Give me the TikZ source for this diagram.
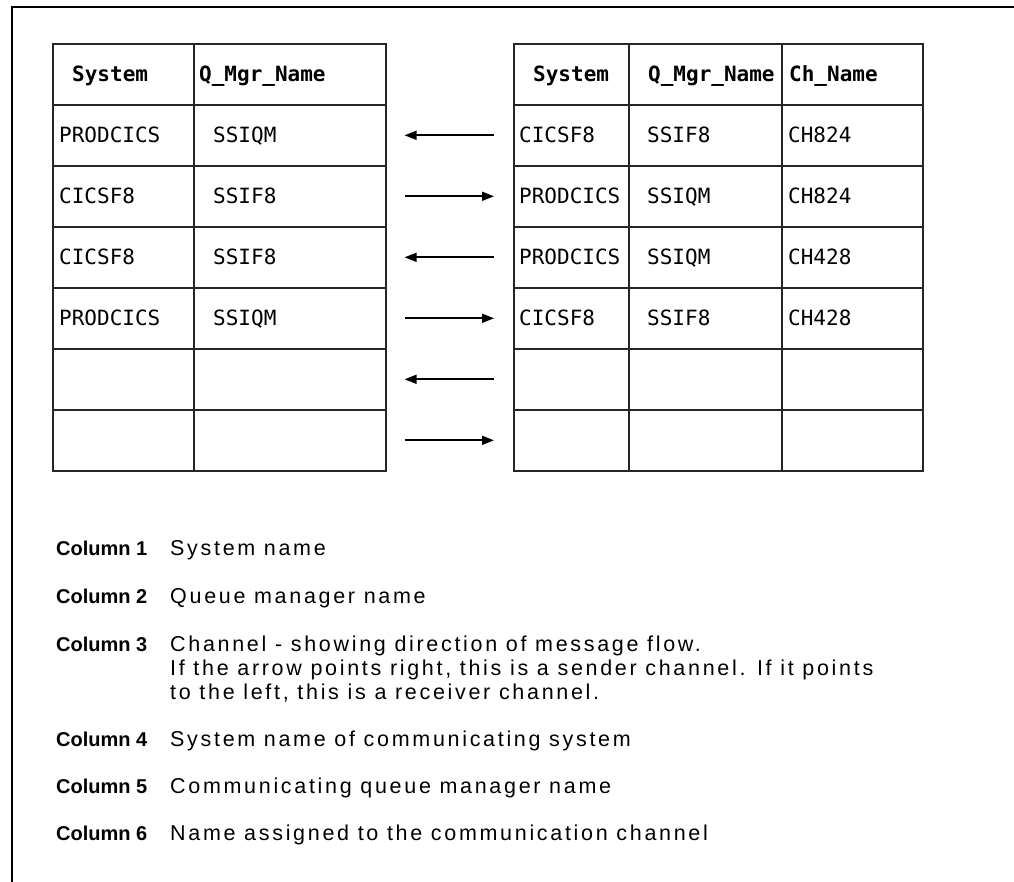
\documentclass[tikz,border=0pt]{standalone}
\usepackage{fontspec}
\usetikzlibrary{arrows.meta,calc}
\setmainfont{Liberation Sans}
\newfontfamily\tabfont{DejaVu Sans Mono}
\newfontfamily\descfont[LetterSpace=12.5]{Liberation Sans}
\begin{document}
\begin{tikzpicture}[x=1pt,y=-1pt,
  frameline/.style={line width=2pt},
  tabline/.style={draw=black!85,line width=1.6pt},
  cellbox/.style={tabline,rectangle,anchor=north west,inner sep=0pt,minimum height=61pt},
  celltext/.style={anchor=base west,inner sep=0pt,font=\tabfont\fontsize{21}{21}\selectfont},
  headtext/.style={anchor=base west,inner sep=0pt,font=\tabfont\bfseries\fontsize{21}{21}\selectfont},
  flow/.style={line width=1.7pt,-{Triangle[length=12pt,width=9pt]}},
  collabel/.style={anchor=base west,inner sep=0pt,font=\bfseries\fontsize{20}{24}\selectfont},
  coltext/.style={anchor=base west,inner sep=0pt,font=\descfont\fontsize{21.5}{24}\selectfont},
]
\useasboundingbox (0,0) rectangle (1014,882);

% outer frame (top and left edges)
\draw[frameline] (1014,7) -- (12,7) -- (12,882);

% ---- cells of both tables: row 0 is the header, rows 1..6 the entries
\foreach \r in {0,...,6}{
  \pgfmathsetmacro{\ytop}{43+61*\r}
  \node[cellbox,minimum width=141pt] (L\r a) at (52,\ytop) {};
  \node[cellbox,minimum width=192pt] (L\r b) at (193,\ytop) {};
  \node[cellbox,minimum width=115pt] (R\r a) at (513,\ytop) {};
  \node[cellbox,minimum width=153pt] (R\r b) at (628,\ytop) {};
  \node[cellbox,minimum width=141pt] (R\r c) at (781,\ytop) {};
}

% ---- headers
\node[headtext] (hLa) at ($(L0a.west)+(20,7.5)$) {System};
\node[headtext] (hLb) at ($(L0b.west)+(6,7.5)$) {Q\_Mgr\_Name};
\node[headtext] (hRa) at ($(R0a.west)+(20,7.5)$) {System};
\node[headtext] (hRb) at ($(R0b.west)+(20,7.5)$) {Q\_Mgr\_Name};
\node[headtext] (hRc) at ($(R0c.west)+(8,7.5)$) {Ch\_Name};

% ---- entries of the local table
\foreach \r/\sys/\qm in {1/PRODCICS/SSIQM,2/CICSF8/SSIF8,3/CICSF8/SSIF8,4/PRODCICS/SSIQM}{
  \node[celltext] (tL\r a) at ($(L\r a.west)+(7,7.5)$) {\sys};
  \node[celltext] (tL\r b) at ($(L\r b.west)+(20,7.5)$) {\qm};
}

% ---- entries of the partner table
\foreach \r/\sys/\qm/\ch in {1/CICSF8/SSIF8/CH824,2/PRODCICS/SSIQM/CH824,3/PRODCICS/SSIQM/CH428,4/CICSF8/SSIF8/CH428}{
  \node[celltext] (tR\r a) at ($(R\r a.west)+(6,7.5)$) {\sys};
  \node[celltext] (tR\r b) at ($(R\r b.west)+(19,7.5)$) {\qm};
  \node[celltext] (tR\r c) at ($(R\r c.west)+(7,7.5)$) {\ch};
}

% ---- channel arrows: receivers point left, senders point right
\foreach \r in {1,3,5}
  \draw[flow,shorten <=19pt,shorten >=18pt] (R\r a.west) -- (L\r b.east);
\foreach \r in {2,4,6}
  \draw[flow,shorten <=18pt,shorten >=19pt] (L\r b.east) -- (R\r a.west);

% ---- legend
\node[collabel] (c1) at (56,555) {Column 1};
\node[coltext]  (d1) at (170,555) {System name};
\node[collabel] (c2) at (56,603) {Column 2};
\node[coltext]  (d2) at (170,603) {Queue manager name};
\node[collabel] (c3) at (56,651) {Column 3};
\node[coltext]  (d3) at (170,651) {Channel - showing direction of message flow.};
\node[coltext]  (d3b) at (170,675) {If the arrow points right, this is a sender channel. If it points};
\node[coltext]  (d3c) at (170,699) {to the left, this is a receiver channel.};
\node[collabel] (c4) at (56,746) {Column 4};
\node[coltext]  (d4) at (170,746) {System name of communicating system};
\node[collabel] (c5) at (56,793) {Column 5};
\node[coltext]  (d5) at (170,793) {Communicating queue manager name};
\node[collabel] (c6) at (56,840) {Column 6};
\node[coltext]  (d6) at (170,840) {Name assigned to the communication channel};
\end{tikzpicture}
\end{document}
